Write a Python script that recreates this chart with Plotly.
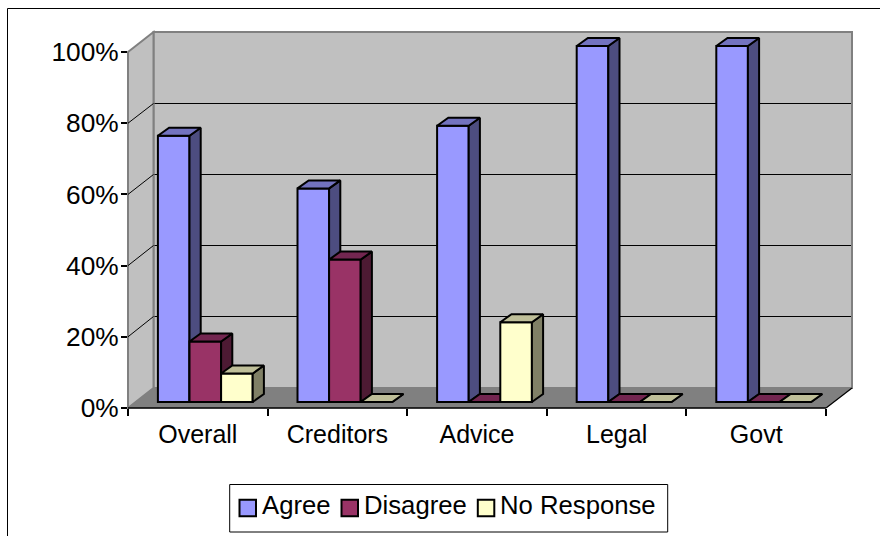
import math
import plotly.graph_objects as go

categories = ["Overall", "Creditors", "Advice", "Legal", "Govt"]
agree = [74.8, 60, 77.6, 100, 100]
disagree = [17, 40, 0, 0, 0]
no_response = [8, 0, 22.4, 0, 0]
tick_values = [0, 20, 40, 60, 80, 100]
tick_labels = ["0%", "20%", "40%", "60%", "80%", "100%"]

W, H = 880, 536
L, R, T, B = 128, 852, 32, 408          # plot box: front-left to back-right
FRONT_R = 826
BACK_L = 153.5
BACK_B = 388
PX_CAT = (FRONT_R - L) / 5
PX_PCT = 3.56
BAR_SHIFT_X, BAR_FLOOR = 7.5, 402       # plane the bars stand on
BAR_W = 31.6 / PX_CAT
DEPTH_X = 11.2 / PX_CAT
DEPTH_Y = 8.0 / PX_PCT
FONT = "Liberation Sans, Arial, sans-serif"


def px(x):
    return (x - L) / (R - L)


def py(y):
    return (B - y) / (B - T)


def poly(points, fill, line, width=2, layer="below"):
    d = "M" + " L".join(f"{px(a):.5f},{py(b):.5f}" for a, b in points) + " Z"
    return dict(type="path", xref="paper", yref="paper", path=d, fillcolor=fill,
                line=dict(color=line, width=width), layer=layer)


def seg(x0, y0, x1, y1, color, width=1.5):
    return dict(type="line", xref="paper", yref="paper", x0=px(x0), y0=py(y0), x1=px(x1), y1=py(y1),
                line=dict(color=color, width=width), layer="below")


GREY = "#808080"
WALL = "#C0C0C0"
dy_back = B - BACK_B
shapes = [
    seg(7.5, 540, 7.5, 8.5, "#000000", 1),
    seg(7.5, 8.5, 884, 8.5, "#000000", 1),
    poly([(BACK_L, T), (R, T), (R, BACK_B), (BACK_L, BACK_B)], WALL, GREY),
    poly([(L, B - 100 * PX_PCT), (BACK_L, T), (BACK_L, BACK_B), (L, B)], WALL, GREY),
    poly([(L, B), (BACK_L, BACK_B), (R, BACK_B), (FRONT_R, B)], GREY, GREY, 0.5),
]
for v in tick_values[1:-1]:
    yf = B - v * PX_PCT
    yb = math.floor(yf - dy_back) + 0.5
    shapes.append(seg(L, yf, BACK_L, yb, "#000000", 1))
    shapes.append(seg(BACK_L + 1, yb, R - 1, yb, "#000000", 1))
shapes.append(seg(L, B, FRONT_R, B, "#000000", 1.5))
shapes.append(seg(FRONT_R, B, R, BACK_B, "#000000", 1.2))

series = [
    ("Agree", agree, "#9999FF", "#7373BF", "#4D4D80"),
    ("Disagree", disagree, "#993366", "#732650", "#4D1A33"),
    ("No Response", no_response, "#FFFFCC", "#BFBF99", "#808066"),
]

# legend: box, key squares and labels
LEG_BOX = (229.7, 484.5, 667.7, 532)
LEG_KEY_X = [239.5, 341.5, 477.8]
LEG_TEXT_X = [259.7, 362, 497.5]
LEG_KEY = 16.5
LEG_Y = 508
shapes.append(poly([(LEG_BOX[0], LEG_BOX[1]), (LEG_BOX[2], LEG_BOX[1]), (LEG_BOX[2], LEG_BOX[3]), (LEG_BOX[0], LEG_BOX[3])],
                   "#FFFFFF", "#000000", 1, "above"))
annotations = []
for (name, _, front, _, _), kx, tx in zip(series, LEG_KEY_X, LEG_TEXT_X):
    shapes.append(poly([(kx, LEG_Y - LEG_KEY / 2), (kx + LEG_KEY, LEG_Y - LEG_KEY / 2),
                        (kx + LEG_KEY, LEG_Y + LEG_KEY / 2), (kx, LEG_Y + LEG_KEY / 2)],
                       front, "#000000", 2, "above"))
    annotations.append(dict(text=name, xref="paper", yref="paper", x=px(tx), y=py(LEG_Y - 2.5),
                            xanchor="left", yanchor="middle", showarrow=False,
                            font=dict(family=FONT, size=25.7, color="#000000")))

fig = go.Figure()
fig.add_trace(go.Scatter(x=categories, y=[None] * len(categories), xaxis="x", yaxis="y",
                         showlegend=False, hoverinfo="skip"))

for k, (name, vals, front, top, side) in enumerate(series):
    ax = str(k + 2)
    xs = [i + (k - 1) * BAR_W for i in range(len(categories))]
    fig.add_trace(go.Bar(x=xs, y=vals, width=BAR_W, name=name, xaxis="x" + ax, yaxis="y" + ax,
                         marker=dict(color=front, line=dict(color="#000000", width=2)),
                         customdata=categories,
                         hovertemplate="%{customdata}: %{y}%<extra>" + name + "</extra>"))
    for xc, v in zip(xs, vals):
        xl, xr = xc - BAR_W / 2, xc + BAR_W / 2
        fig.add_trace(go.Scatter(
            x=[xr, xr + DEPTH_X, xr + DEPTH_X, xr, xr],
            y=[v, v + DEPTH_Y, DEPTH_Y, 0, v],
            mode="lines", fill="toself", fillcolor=side, line=dict(color="#000000", width=2),
            xaxis="x" + ax, yaxis="y" + ax, hoverinfo="skip"))
        fig.add_trace(go.Scatter(
            x=[xl, xl + DEPTH_X, xr + DEPTH_X, xr, xl],
            y=[v, v + DEPTH_Y, v + DEPTH_Y, v, v],
            mode="lines", fill="toself", fillcolor=top, line=dict(color="#000000", width=2),
            xaxis="x" + ax, yaxis="y" + ax, hoverinfo="skip"))

x_base = [-0.5, -0.5 + (R - L) / PX_CAT]
y_base = [0, (B - T) / PX_PCT]
x_bar = [x_base[0] - BAR_SHIFT_X / PX_CAT, x_base[1] - BAR_SHIFT_X / PX_CAT]
y_bar = [(BAR_FLOOR - B) / PX_PCT, (BAR_FLOOR - T) / PX_PCT]

layout = dict(
    width=W, height=H,
    margin=dict(l=L, r=W - R, t=T, b=H - B, autoexpand=False),
    paper_bgcolor="#FFFFFF", plot_bgcolor="rgba(0,0,0,0)",
    font=dict(family=FONT, size=25, color="#000000"),
    shapes=shapes,
    annotations=annotations,
    showlegend=False,
    barmode="overlay",
    hovermode="closest",
    xaxis=dict(type="category", categoryorder="array", categoryarray=categories, range=x_base,
               tickson="boundaries", ticks="outside", ticklen=7, tickcolor="#000000", tickwidth=1.5,
               showline=False, showgrid=False, zeroline=False, fixedrange=True,
               ticklabelstandoff=9,
               tickfont=dict(family=FONT, size=25)),
    yaxis=dict(range=y_base, tickmode="array", tickvals=tick_values, ticktext=tick_labels,
               ticks="outside", ticklen=6, tickcolor="#000000", tickwidth=1.5,
               showline=False, showgrid=False, zeroline=False, fixedrange=True,
               ticklabelstandoff=-3,
               tickfont=dict(family=FONT, size=26.3)),
)
for k in range(len(series)):
    ax = str(k + 2)
    layout["xaxis" + ax] = dict(overlaying="x", range=x_bar, visible=False, fixedrange=True, anchor="y" + ax)
    layout["yaxis" + ax] = dict(overlaying="y", range=y_bar, visible=False, fixedrange=True, anchor="x" + ax)
fig.update_layout(**layout)
fig.write_html("out.html", config={"displayModeBar": False},
               post_script="document.body.style.margin='0';")
